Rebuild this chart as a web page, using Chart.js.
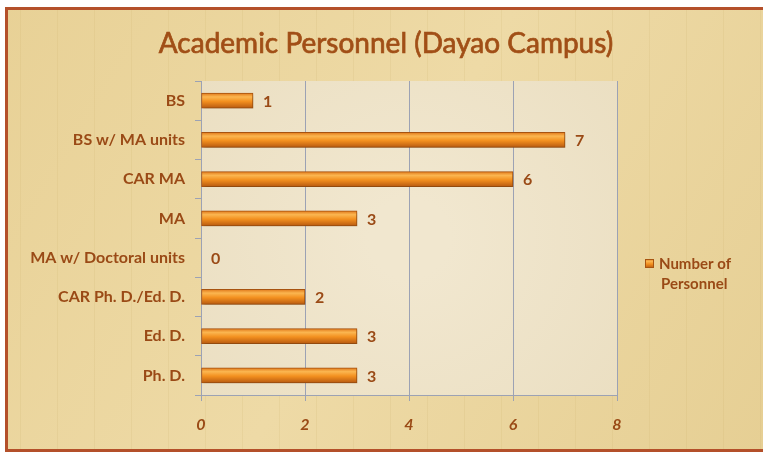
<!DOCTYPE html>
<html>
<head>
<meta charset="utf-8">
<title>Academic Personnel (Dayao Campus)</title>
<script src="https://cdn.jsdelivr.net/npm/chart.js@4.4.1/dist/chart.umd.min.js"></script>
<style>
    html, body { margin: 0; padding: 0; background: #ffffff; }
    #wrap { width: 763px; height: 455px; position: relative; }
</style>
</head>
<body>
<div id="wrap"><canvas id="personnelChart" width="763" height="455"></canvas></div>
<script>
document.addEventListener('DOMContentLoaded', () => {
    const ctx = document.getElementById('personnelChart').getContext('2d');

    // Number of academic personnel per highest degree
    const personnel = [
        { degree: 'BS', count: 1 },
        { degree: 'BS w/ MA units', count: 7 },
        { degree: 'CAR MA', count: 6 },
        { degree: 'MA', count: 3 },
        { degree: 'MA w/ Doctoral units', count: 0 },
        { degree: 'CAR Ph. D./Ed. D.', count: 2 },
        { degree: 'Ed. D.', count: 3 },
        { degree: 'Ph. D.', count: 3 }
    ];

    const brown = '#9a4a16';
    const fontFamily = 'Lato, "Open Sans", sans-serif';
    const barThickness = 15;

    const orangeGradient = (c, top, height) => {
        const g = c.createLinearGradient(0, top, 0, top + height);
        g.addColorStop(0, '#e0781a');
        g.addColorStop(0.25, '#fbb650');
        g.addColorStop(0.55, '#f3901f');
        g.addColorStop(1, '#b85a10');
        return g;
    };

    // Parchment background, frame, plot area and title
    const background = {
        id: 'background',
        beforeDraw(chart) {
            const c = chart.ctx;
            const { left, top, right, bottom } = chart.chartArea;
            c.save();
            c.fillStyle = '#ffffff';
            c.fillRect(0, 0, chart.width, chart.height);

            const paper = c.createLinearGradient(0, 0, chart.width, chart.height);
            paper.addColorStop(0, '#e8d196');
            paper.addColorStop(0.5, '#eedaa6');
            paper.addColorStop(1, '#e6cf94');
            c.fillStyle = paper;
            c.fillRect(6, 8, chart.width - 6, chart.height - 12);

            // faint fibre lines
            c.strokeStyle = 'rgba(200, 170, 100, 0.14)';
            c.lineWidth = 1;
            for (let x = 20; x < chart.width; x += 37) {
                c.beginPath();
                c.moveTo(x + 0.5, 8);
                c.lineTo(x + 0.5, chart.height - 4);
                c.stroke();
            }

            c.strokeStyle = '#b4502a';
            c.lineWidth = 3;
            c.strokeRect(6.5, 8.5, chart.width + 4, chart.height - 13);

            const plot = c.createRadialGradient((left + right) / 2, (top + bottom) / 2, 40,
                (left + right) / 2, (top + bottom) / 2, 260);
            plot.addColorStop(0, '#f1e7cf');
            plot.addColorStop(1, '#ebdfc2');
            c.fillStyle = plot;
            c.fillRect(left, top, right - left, bottom - top);

            // title centred on the whole frame, slightly heavier than regular
            c.fillStyle = '#a14f17';
            c.strokeStyle = '#a14f17';
            c.lineWidth = 0.7;
            c.font = '28px ' + fontFamily;
            c.textAlign = 'center';
            c.textBaseline = 'middle';
            c.fillText('Academic Personnel (Dayao Campus)', 386, 44);
            c.strokeText('Academic Personnel (Dayao Campus)', 386, 44);
            c.restore();
        }
    };

    // Soft shadow under the bars
    const barShadow = {
        id: 'barShadow',
        beforeDatasetsDraw(chart) {
            const c = chart.ctx;
            c.save();
            c.shadowColor = 'rgba(90, 50, 10, 0.35)';
            c.shadowBlur = 3;
            c.shadowOffsetX = 2;
            c.shadowOffsetY = 2;
        },
        afterDatasetsDraw(chart) {
            chart.ctx.restore();
        }
    };

    // Value labels to the right of each bar, plus the legend
    const valueLabels = {
        id: 'valueLabels',
        afterDraw(chart) {
            const c = chart.ctx;
            const meta = chart.getDatasetMeta(0);
            c.save();
            c.fillStyle = brown;
            c.font = 'bold 16px ' + fontFamily;
            c.textAlign = 'left';
            c.textBaseline = 'middle';
            meta.data.forEach((bar, i) => {
                c.fillText(String(chart.data.datasets[0].data[i]), bar.x + 10, bar.y + 1);
            });

            // legend
            const lx = 645, ly = 259;
            c.fillStyle = orangeGradient(c, ly, 9);
            c.fillRect(lx, ly, 9, 9);
            c.strokeStyle = '#a85410';
            c.lineWidth = 1;
            c.strokeRect(lx + 0.5, ly + 0.5, 8, 8);
            c.fillStyle = brown;
            c.font = 'bold 15px ' + fontFamily;
            c.fillText('Number of', 659, ly + 5);
            c.fillText('Personnel', 661, ly + 25);
            c.restore();
        }
    };

    new Chart(ctx, {
        type: 'bar',
        data: {
            labels: personnel.map(entry => entry.degree),
            datasets: [{
                label: 'Number of Personnel',
                data: personnel.map(entry => entry.count),
                backgroundColor: (context) => {
                    const yScale = context.chart.scales.y;
                    if (context.type !== 'data' || !yScale) {
                        return '#f08a20';
                    }
                    const yc = yScale.getPixelForValue(context.dataIndex);
                    if (!Number.isFinite(yc)) {
                        return '#f08a20';
                    }
                    return orangeGradient(context.chart.ctx, yc - barThickness / 2, barThickness);
                },
                borderColor: '#a85410',
                borderWidth: 1,
                borderSkipped: false,
                barThickness: barThickness
            }]
        },
        options: {
            indexAxis: 'y',
            responsive: false,
            animation: false,
            layout: {
                padding: { left: 0, right: 146, top: 81, bottom: 0 }
            },
            plugins: {
                legend: { display: false },
                tooltip: { enabled: false },
                title: { display: false }
            },
            scales: {
                x: {
                    min: 0,
                    max: 8,
                    ticks: {
                        stepSize: 2,
                        color: brown,
                        padding: 14,
                        font: { family: fontFamily, size: 16, weight: 'bold', style: 'italic' }
                    },
                    grid: {
                        color: '#9ca2b4',
                        tickLength: 6
                    },
                    border: { color: '#9ca2b4' },
                    afterFit: (scale) => { scale.height = 60; }
                },
                y: {
                    ticks: {
                        color: brown,
                        padding: 10,
                        font: { family: fontFamily, size: 16, weight: 'bold' }
                    },
                    grid: {
                        offset: true,
                        drawOnChartArea: false,
                        color: '#9ca2b4',
                        tickLength: 6
                    },
                    border: { color: '#9ca2b4' },
                    afterFit: (scale) => { scale.width = 201; }
                }
            }
        },
        plugins: [background, barShadow, valueLabels]
    });
});
</script>
</body>
</html>
